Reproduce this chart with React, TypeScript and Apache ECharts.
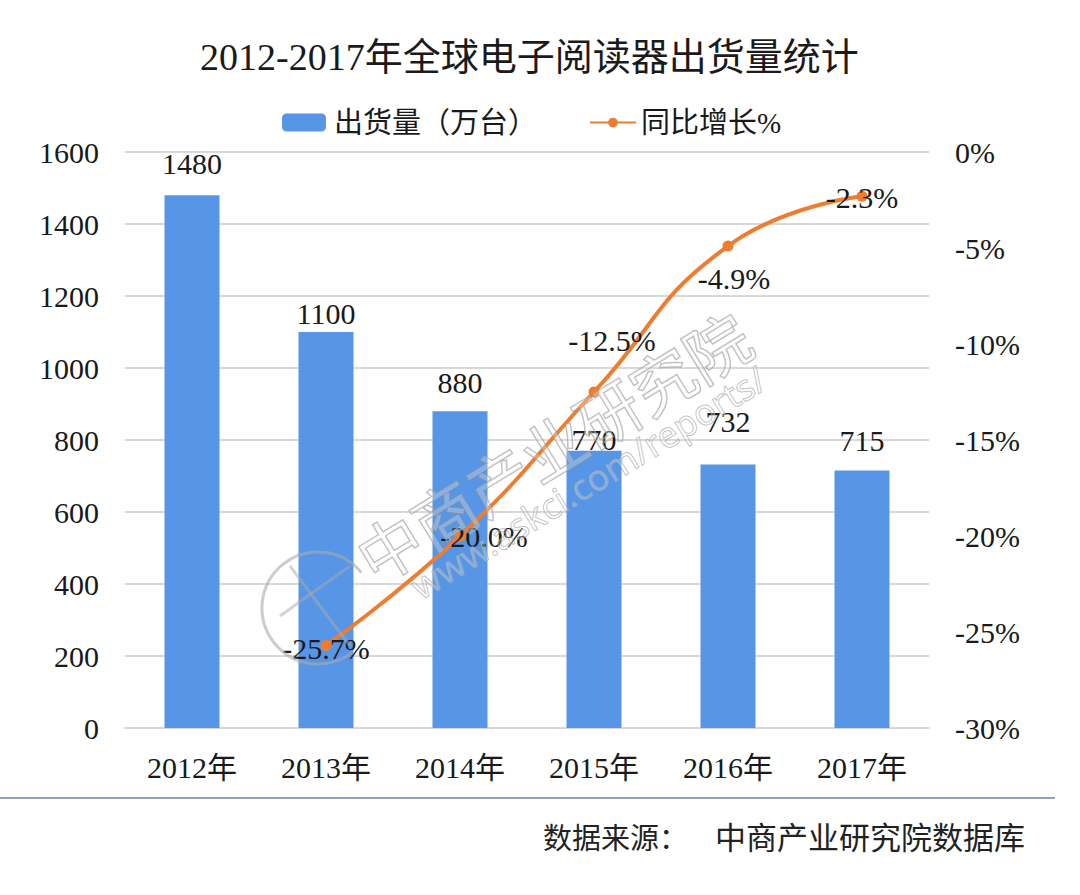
import React, { useEffect, useRef } from "react";
import * as echarts from "echarts";

const TITLE = "2012-2017年全球电子阅读器出货量统计";
const SOURCE_LABEL = "数据来源：";
const SOURCE_NAME = "中商产业研究院数据库";
const categories = ["2012年", "2013年", "2014年", "2015年", "2016年", "2017年"];
const shipments = [1480, 1100, 880, 770, 732, 715];
const growth: (number | null)[] = [null, -25.7, -20.0, -12.5, -4.9, -2.3];
const barName = "出货量（万台）";
const lineName = "同比增长%";

const barLabelOffsets = [-12, 1, -9, 9, -23, -10];
const lineLabelOffsets = [
  [0, 0],
  [0, 3],
  [24, 0],
  [18, -52],
  [6, 32],
  [0, 1],
];

const FONT = "'Liberation Serif', 'Noto Sans CJK SC', serif";
const TXT = "#1a1a1a";

export default function App() {
  const ref = useRef<HTMLDivElement>(null);
  useEffect(() => {
    if (!ref.current) return;
    const chart = echarts.init(ref.current, undefined, { renderer: "svg" });
    chart.setOption({
      animation: false,
      backgroundColor: "#ffffff",
      textStyle: { fontFamily: FONT },
      title: {
        text: TITLE,
        left: 195,
        top: 33,
        textStyle: { fontSize: 38, fontWeight: "normal", color: TXT, fontFamily: FONT },
      },
      legend: [
        {
          left: 277,
          top: 103,
          data: [barName],
          itemWidth: 44,
          itemHeight: 18,
          itemGap: 0,
          textStyle: { fontSize: 29, color: TXT, fontFamily: FONT, padding: [0, 0, 0, 3] },
        },
        {
          left: 584,
          top: 103,
          data: [lineName],
          itemWidth: 46,
          itemHeight: 12,
          textStyle: { fontSize: 29, color: TXT, fontFamily: FONT, padding: [0, 0, 0, 0] },
        },
      ],
      grid: { left: 125, right: 151, top: 152, bottom: 167 },
      xAxis: {
        type: "category",
        data: categories,
        axisLine: { show: true, lineStyle: { color: "#d9d9d9", width: 2 } },
        axisTick: { show: false },
        axisLabel: { fontSize: 30, color: TXT, margin: 24, fontFamily: FONT },
      },
      yAxis: [
        {
          type: "value",
          min: 0,
          max: 1600,
          interval: 200,
          axisLine: { show: false },
          axisTick: { show: false },
          axisLabel: {
            fontSize: 30,
            color: TXT,
            margin: 26,
            fontFamily: FONT,
            formatter: (v: number) => String(v),
          },
          splitLine: { lineStyle: { color: "#d9d9d9", width: 2 } },
        },
        {
          type: "value",
          min: -30,
          max: 0,
          interval: 5,
          axisLine: { show: false },
          axisTick: { show: false },
          axisLabel: {
            fontSize: 30,
            color: TXT,
            margin: 26,
            fontFamily: FONT,
            formatter: (v: number) => `${v}%`,
          },
          splitLine: { show: false },
        },
      ],
      series: [
        {
          name: barName,
          type: "bar",
          yAxisIndex: 0,
          barWidth: 55,
          itemStyle: { color: "#5796E6" },
          data: shipments.map((v, i) => ({
            value: v,
            label: { offset: [0, barLabelOffsets[i]] },
          })),
          label: {
            show: true,
            position: "top",
            fontSize: 30,
            color: TXT,
            fontFamily: FONT,
          },
        },
        {
          name: lineName,
          type: "line",
          yAxisIndex: 1,
          smooth: true,
          symbol: "circle",
          symbolSize: 11,
          lineStyle: { color: "#ED7D31", width: 4 },
          itemStyle: { color: "#ED7D31" },
          data: growth.map((v, i) => ({
            value: v,
            label: { offset: lineLabelOffsets[i] },
          })),
          label: {
            show: true,
            position: "inside",
            fontSize: 30,
            color: TXT,
            fontFamily: FONT,
            formatter: (p: any) => `${Number(p.value).toFixed(1)}%`,
          },
          z: 5,
        },
      ],
      graphic: [
        {
          type: "arc",
          z: 100,
          shape: { cx: 318, cy: 608, r: 56, startAngle: 0.9, endAngle: 5.6 },
          style: { stroke: "rgba(170,170,170,0.6)", lineWidth: 3, fill: "none" },
        },
        {
          type: "line",
          z: 100,
          shape: { x1: 290, y1: 566, x2: 350, y2: 646 },
          style: { stroke: "rgba(170,170,170,0.5)", lineWidth: 3 },
        },
        {
          type: "line",
          z: 100,
          shape: { x1: 280, y1: 616, x2: 350, y2: 566 },
          style: { stroke: "rgba(170,170,170,0.5)", lineWidth: 3 },
        },
        {
          type: "text",
          x: 552,
          y: 445,
          rotation: 0.55,
          z: 100,
          style: {
            text: "中商产业研究院",
            fontSize: 64,
            fontFamily: "'Noto Sans CJK SC', sans-serif",
            fill: "rgba(255,255,255,0.25)",
            stroke: "rgba(150,150,150,0.65)",
            lineWidth: 1.5,
            align: "center",
            verticalAlign: "middle",
          },
        },
        {
          type: "text",
          x: 588,
          y: 482,
          rotation: 0.55,
          z: 100,
          style: {
            text: "www.askci.com/reports/",
            fontSize: 36,
            fontFamily: "'Noto Sans', sans-serif",
            fill: "rgba(255,255,255,0.25)",
            stroke: "rgba(150,150,150,0.65)",
            lineWidth: 1,
            align: "center",
            verticalAlign: "middle",
          },
        },
        {
          type: "line",
          shape: { x1: 0, y1: 798, x2: 1055, y2: 798 },
          style: { stroke: "#8EA3BF", lineWidth: 2 },
        },
        {
          type: "text",
          left: 543,
          top: 824,
          style: {
            text: SOURCE_LABEL,
            fontSize: 29,
            fill: "#222222",
            fontFamily: FONT,
          },
        },
        {
          type: "text",
          left: 715,
          top: 823,
          style: {
            text: SOURCE_NAME,
            fontSize: 31,
            fill: "#222222",
            fontFamily: FONT,
          },
        },
      ],
    });
    return () => chart.dispose();
  }, []);
  return (
    <div
      ref={ref}
      style={{ position: "fixed", left: 0, top: 0, width: 1080, height: 895, background: "#fff" }}
    />
  );
}
